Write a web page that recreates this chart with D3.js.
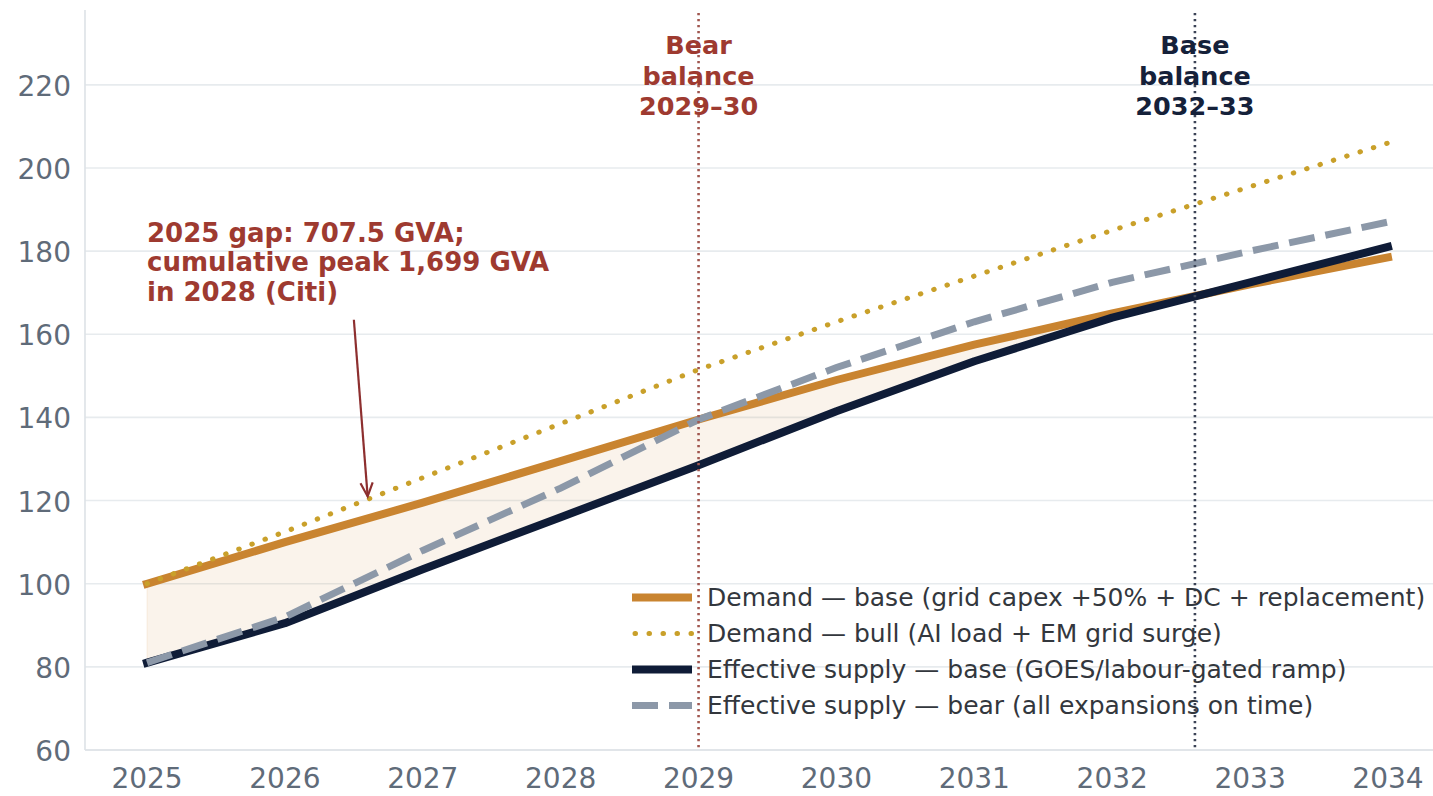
<!DOCTYPE html>
<html>
<head>
<meta charset="utf-8">
<script src="https://cdn.jsdelivr.net/npm/d3@7"></script>
<style>
  html, body { margin: 0; padding: 0; background: #ffffff; }
  svg { display: block; font-family: "DejaVu Sans", sans-serif; }
</style>
</head>
<body>
<svg id="chart" width="1433" height="796"></svg>
<script>
// ---------------- DATA ----------------
const years = [2025, 2026, 2027, 2028, 2029, 2030, 2031, 2032, 2033, 2034];
const demandBase = [100, 110, 119.5, 129.5, 139.5, 149, 157.5, 165, 172, 178.5];
const demandBull = [100, 112.5, 125.5, 138.5, 151.5, 163, 174, 185, 195.5, 206];
const supplyBase = [81, 90.5, 103.5, 116, 128.5, 141.5, 153.5, 164, 172.5, 181];
const supplyBear = [81, 92, 108, 123, 139.5, 152, 163, 172.5, 180, 187];
const yTicks = [60, 80, 100, 120, 140, 160, 180, 200, 220];
const xTicks = years;
const seriesNames = [
  "Demand \u2014 base (grid capex +50% + DC + replacement)",
  "Demand \u2014 bull (AI load + EM grid surge)",
  "Effective supply \u2014 base (GOES/labour-gated ramp)",
  "Effective supply \u2014 bear (all expansions on time)"
];
const balanceYears = [2029, 2032.6];
const balanceLabels = [["Bear", "balance", "2029\u201330"], ["Base", "balance", "2032\u201333"]];
const annotationLines = ["2025 gap: 707.5 GVA;", "cumulative peak 1,699 GVA", "in 2028 (Citi)"];
const annotationText = { x: 2025, y: 182.3 };
const annotationArrowFrom = { x: 2026.5, y: 163.5 };
const annotationArrowTo = { x: 2026.6, y: 121 };

// ---------------- STYLE ----------------
const C = {
  orange: "#c98430",
  bull: "#c9a02a",
  navy: "#0f1c37",
  gray: "#8c98a8",
  fill: "#d08a3a",
  bearText: "#9e3a30",
  baseText: "#15213a",
  bearLine: "#a0564f",
  baseLine: "#3b4356",
  tick: "#5f6b79",
  grid: "#e7ebee",
  spine: "#dde2e6",
  legend: "#33373d"
};

const svg = d3.select("#chart");

const x = d3.scaleLinear().domain([2024.55, 2034.45]).range([85, 1450]);
const y = d3.scaleLinear().domain([60, 238]).range([750, 10]);

const plot = svg.append("g");

// grid
plot.append("g").selectAll("line").data(yTicks).join("line")
  .attr("x1", x.range()[0]).attr("x2", x.range()[1])
  .attr("y1", d => y(d)).attr("y2", d => y(d))
  .attr("stroke", C.grid).attr("stroke-width", 1.6);

// spines
plot.append("line").attr("x1", x.range()[0]).attr("x2", x.range()[0])
  .attr("y1", y.range()[1]).attr("y2", y.range()[0])
  .attr("stroke", C.spine).attr("stroke-width", 1.6);
plot.append("line").attr("x1", x.range()[0]).attr("x2", x.range()[1])
  .attr("y1", y.range()[0]).attr("y2", y.range()[0])
  .attr("stroke", C.spine).attr("stroke-width", 1.6);

// tick labels
svg.append("g").selectAll("text").data(yTicks).join("text")
  .attr("x", 71).attr("y", d => y(d) + 11)
  .attr("text-anchor", "end")
  .attr("font-size", 28).attr("fill", C.tick)
  .text(d => d);
svg.append("g").selectAll("text").data(xTicks).join("text")
  .attr("x", d => x(d)).attr("y", 788)
  .attr("text-anchor", "middle")
  .attr("font-size", 28).attr("fill", C.tick)
  .text(d => d);

// fill between demand base and supply base (where demand above)
const rows = years.map((yr, i) => ({
  yr, db: demandBase[i], dbull: demandBull[i], sb: supplyBase[i], sbear: supplyBear[i]
}));
const area = d3.area()
  .x(d => x(d.yr))
  .y0(d => y(Math.min(d.sb, d.db)))
  .y1(d => y(d.db));
plot.append("path").datum(rows).attr("d", area)
  .attr("fill", C.fill).attr("fill-opacity", 0.1)
  .attr("stroke", C.fill).attr("stroke-opacity", 0.12).attr("stroke-width", 1);

const lineOf = key => d3.line().x(d => x(d.yr)).y(d => y(d[key]));

// demand base
plot.append("path").datum(rows).attr("d", lineOf("db"))
  .attr("fill", "none").attr("stroke", C.orange).attr("stroke-width", 8)
  .attr("stroke-linecap", "square").attr("stroke-linejoin", "round");
// demand bull
plot.append("path").datum(rows).attr("d", lineOf("dbull"))
  .attr("fill", "none").attr("stroke", C.bull).attr("stroke-width", 5)
  .attr("stroke-linecap", "round")
  .attr("stroke-dasharray", "0.5,13.5");
// supply base
plot.append("path").datum(rows).attr("d", lineOf("sb"))
  .attr("fill", "none").attr("stroke", C.navy).attr("stroke-width", 8)
  .attr("stroke-linecap", "square").attr("stroke-linejoin", "round");
// supply bear
plot.append("path").datum(rows).attr("d", lineOf("sbear"))
  .attr("fill", "none").attr("stroke", C.gray).attr("stroke-width", 7)
  .attr("stroke-dasharray", "26,11");

// balance vertical lines
const vColors = [C.bearLine, C.baseLine];
const tColors = [C.bearText, C.baseText];
balanceYears.forEach((yr, i) => {
  plot.append("line")
    .attr("x1", x(yr)).attr("x2", x(yr))
    .attr("y1", y.range()[1] + 3).attr("y2", y.range()[0])
    .attr("stroke", vColors[i]).attr("stroke-width", 2.6)
    .attr("stroke-dasharray", "2.2,3.8");
  const t = svg.append("text")
    .attr("x", x(yr)).attr("text-anchor", "middle")
    .attr("font-size", 25.5).attr("font-weight", "bold")
    .attr("fill", tColors[i]);
  balanceLabels[i].forEach((s, j) => {
    t.append("tspan").attr("x", x(yr)).attr("y", 54 + j * 30.5).text(s);
  });
});

// annotation
const at = svg.append("text")
  .attr("font-size", 26).attr("font-weight", "bold").attr("fill", C.bearText);
annotationLines.forEach((s, j) => {
  at.append("tspan").attr("x", x(annotationText.x)).attr("y", y(annotationText.y) + j * 29.5).text(s);
});
const ax1 = x(annotationArrowFrom.x), ay1 = y(annotationArrowFrom.y);
const ax2 = x(annotationArrowTo.x), ay2 = y(annotationArrowTo.y);
svg.append("line").attr("x1", ax1).attr("y1", ay1).attr("x2", ax2).attr("y2", ay2)
  .attr("stroke", "#8d2f2f").attr("stroke-width", 2.2);
{
  const ang = Math.atan2(ay2 - ay1, ax2 - ax1);
  const L = 15, sp = 0.42;
  const p1 = [ax2 - L * Math.cos(ang - sp), ay2 - L * Math.sin(ang - sp)];
  const p2 = [ax2 - L * Math.cos(ang + sp), ay2 - L * Math.sin(ang + sp)];
  svg.append("path")
    .attr("d", `M${p1[0]},${p1[1]}L${ax2},${ay2}L${p2[0]},${p2[1]}`)
    .attr("fill", "none").attr("stroke", "#8d2f2f").attr("stroke-width", 2.2)
    .attr("stroke-linejoin", "miter");
}

// legend
const legend = svg.append("g");
const legY0 = 606, legDY = 36;
const hx1 = 632, hx2 = 692, tx = 707;
const handleStyles = [
  { stroke: C.orange, w: 8, dash: null, cap: "butt" },
  { stroke: C.bull, w: 5, dash: "0.5,13.5", cap: "round" },
  { stroke: C.navy, w: 8, dash: null, cap: "butt" },
  { stroke: C.gray, w: 7, dash: "26,11", cap: "butt" }
];
seriesNames.forEach((name, i) => {
  const by = legY0 + i * legDY;
  const hs = handleStyles[i];
  const ln = legend.append("line")
    .attr("x1", hs.cap === "round" ? hx1 + 3 : hx1).attr("x2", hx2)
    .attr("y1", by - 8.5).attr("y2", by - 8.5)
    .attr("stroke", hs.stroke).attr("stroke-width", hs.w)
    .attr("stroke-linecap", hs.cap);
  if (hs.dash) ln.attr("stroke-dasharray", hs.dash);
  legend.append("text").attr("x", tx).attr("y", by)
    .attr("font-size", 25).attr("fill", C.legend).text(name);
});
</script>
</body>
</html>
